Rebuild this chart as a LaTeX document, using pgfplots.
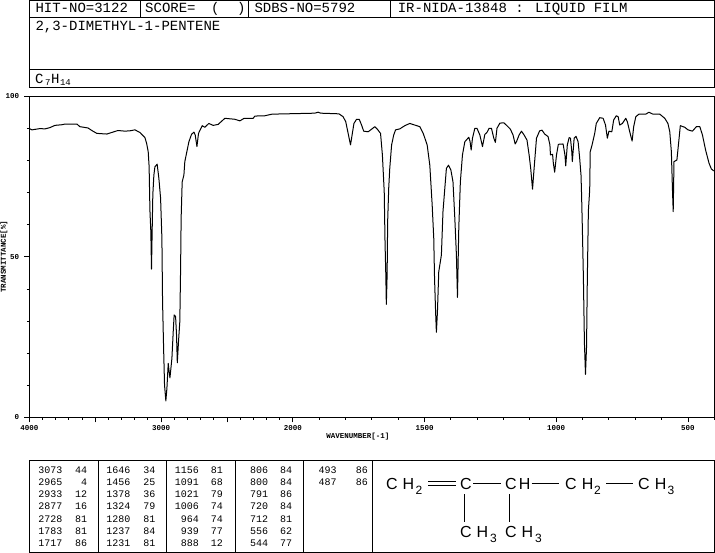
\documentclass[border=0pt]{standalone}
\usepackage{fontspec}
\usepackage{pgfplots}
\pgfplotsset{compat=1.18}
\setmainfont{Liberation Sans}
\newfontfamily\px{Liberation Mono}
% one text helper: left, baseline, size, text
\newcommand\txt[4]{\node[anchor=base west,inner sep=0pt] at (#1,#2) {\fontsize{#3}{#3}\selectfont #4};}
\newcommand\hdr[3]{\txt{#1}{#2}{14}{\px #3}}
\newcommand\grp[3]{\txt{#1}{#2}{16}{#3}}
\begin{document}
\begin{tikzpicture}[x=1pt,y=-1pt,line width=1pt]
\useasboundingbox (0,0) rectangle (715,553);
% header box
\draw (29.4,0.5) rectangle (714.3,87.3);
\draw (29.4,17.3) -- (714.3,17.3) (29.4,69.5) -- (714.3,69.5);
\draw (140,0.5) -- (140,17.3) (248.3,0.5) -- (248.3,17.3) (390.5,0.5) -- (390.5,17.3);
\hdr{35}{13}{HIT-NO=3122}
\hdr{144.7}{13}{SCORE=}
\hdr{210.5}{13}{(}
\hdr{236.5}{13}{)}
\hdr{254}{13}{SDBS-NO=5792}
\hdr{397.3}{13}{IR-NIDA-13848 : LIQUID FILM}
\hdr{35}{30.7}{2,3-DIMETHYL-1-PENTENE}
\hdr{34.5}{84}{C}
\txt{44.5}{86}{9}{\px 7}
\hdr{50.5}{84}{H}
\txt{59.5}{86}{9}{\px 14}
\begin{axis}[
at={(29.4pt,-417.3pt)},anchor=south west,
scale only axis,width=684.9pt,height=320.8pt,
x coord trafo/.code={\pgfmathparse{#1>2000 ? (4000-#1)/2 : 3000-#1}\pgfmathresult},
xmin=4000,xmax=400,ymin=0,ymax=100,
axis line style={line width=1pt},
tick align=outside,xtick pos=bottom,ytick pos=left,
tick style={black,line width=0.9pt},
major tick length=5pt,minor tick length=2.5pt,
xtick={4000,3000,2000,1500,1000,500},
xticklabels={4000,3000,2000,1500,1000,500},
extra x ticks={3500,2500},extra x tick labels={},
minor xtick={3900,3800,3700,3600,3400,3300,3200,3100,2900,2800,2700,2600,2400,2300,2200,2100,1900,1800,1700,1600,1400,1300,1200,1100,900,800,700,600,400},
ytick={0,50,100},yticklabels={0,50,100},
minor ytick={10,20,30,40,60,70,80,90},
ticklabel style={font=\fontsize{7.5}{7.5}\selectfont\px\bfseries,inner sep=0pt},
xticklabel style={yshift=-2.5pt},
yticklabel style={xshift=-5pt},
xlabel={WAVENUMBER[-1]},ylabel={TRANSMITTANCE[\%]},
every axis x label/.style={at={(axis description cs:0.4795,-0.06)},anchor=center,font=\fontsize{7.5}{7.5}\selectfont\px\bfseries},
every axis y label/.style={at={(axis description cs:-0.037,0.5)},anchor=center,rotate=90,font=\fontsize{7.5}{7.5}\selectfont\px\bfseries},
]
\addplot[black,line width=1pt,sharp plot,line join=round] coordinates {
(4000,90.0)(3981,89.6)(3920,90.0)(3882,89.9)(3844,90.3)(3806,91.0)(3753,91.2)(3731,91.4)(3639,91.4)(3617,90.6)
(3556,90.2)(3518,89.2)(3488,88.5)(3412,88.3)(3366,88.9)(3328,89.4)(3275,89.2)(3237,89.3)(3199,89.6)(3161,88.8)
(3123,87.2)(3110,85.4)(3098,82.8)(3091,78.1)(3085,64.6)(3078,57.9)(3073,46.2)(3068,57.9)(3063,69.3)(3055,75.5)
(3047,78.1)(3030,78.9)(3017,74.5)(3004,68.3)(2994,55.8)(2989,36.0)(2981,21.5)(2974,10.1)(2964,5.1)(2956,9.0)
(2946,16.8)(2939,14.2)(2933,12.3)(2918,18.4)(2908,26.7)(2901,31.9)(2890,31.4)(2883,25.7)(2877,17.0)(2868,23.6)
(2858,29.8)(2852,46.4)(2848,62.0)(2840,73.4)(2827,75.5)(2820,79.7)(2807,82.3)(2789,85.9)(2769,88.2)(2751,88.9)
(2741,88.0)(2728,84.4)(2716,88.5)(2688,90.9)(2668,90.4)(2638,91.6)(2605,91.0)(2567,91.3)(2516,93.2)(2465,93.0)
(2440,92.9)(2402,92.4)(2370,93.2)(2301,93.2)(2288,93.9)(2212,94.0)(2157,94.5)(2048,94.6)(1917,94.8)(1904,95.1)
(1894,94.8)(1825,94.6)(1809,93.7)(1799,92.1)(1790,88.5)(1781,84.9)(1775,88.0)(1768,91.6)(1758,92.9)(1748,92.9)
(1739,91.1)(1731,89.2)(1714,89.0)(1701,89.8)(1689,90.6)(1679,89.8)(1667,88.5)(1660,81.8)(1653,70.3)(1650,54.7)
(1647,44.4)(1645,35.2)(1642,44.4)(1640,61.0)(1636,71.4)(1632,77.6)(1625,84.9)(1617,88.0)(1610,89.6)(1594,89.9)
(1575,90.9)(1556,91.6)(1537,91.1)(1518,90.6)(1505,88.5)(1490,84.9)(1480,78.6)(1471,66.2)(1465,55.8)(1462,43.3)
(1458,32.9)(1455,26.5)(1451,32.9)(1446,45.4)(1436,50.6)(1430,64.1)(1423,71.4)(1417,77.6)(1409,78.6)(1400,77.1)
(1392,73.4)(1385,62.0)(1379,50.6)(1375,37.4)(1370,58.9)(1364,73.4)(1356,81.8)(1347,85.9)(1332,87.3)(1327,85.9)
(1323,83.3)(1318,87.0)(1309,90.1)(1301,90.1)(1290,88.0)(1280,84.4)(1271,88.2)(1263,88.8)(1255,90.1)(1246,90.1)
(1237,87.0)(1231,85.7)(1225,90.1)(1214,91.7)(1199,91.8)(1187,90.9)(1174,89.8)(1164,88.0)(1156,85.2)(1151,85.9)
(1141,88.0)(1132,89.2)(1122,88.0)(1111,86.4)(1103,81.8)(1097,77.6)(1090,71.1)(1085,76.6)(1075,87.0)(1063,89.3)
(1054,89.5)(1044,88.3)(1031,87.5)(1024,84.9)(1022,81.8)(1014,82.0)(1011,79.2)(1006,76.4)(999,81.8)(992,85.1)
(974,85.2)(967,81.8)(964,78.4)(958,84.9)(951,87.2)(946,87.0)(941,82.8)(939,79.7)(932,87.0)(925,87.6)
(917,85.9)(911,80.7)(906,75.5)(904,69.9)(901,59.4)(897,43.8)(893,23.1)(889,13.4)(885,22.0)(882,43.3)
(878,64.4)(873,70.9)(871,82.8)(864,84.9)(854,88.5)(848,91.6)(835,93.4)(822,93.2)(813,91.1)(806,87.0)
(800,89.2)(789,89.0)(782,92.7)(772,94.0)(765,93.7)(759,91.1)(749,91.6)(736,93.2)(730,92.1)(721,89.0)
(712,86.1)(706,90.6)(698,93.7)(686,94.5)(660,94.5)(648,95.1)(633,94.5)(607,94.5)(588,93.2)(576,91.6)
(569,89.0)(563,82.8)(559,71.4)(556,64.1)(553,79.7)(542,80.2)(535,85.9)(529,90.9)(512,90.4)(500,89.6)
(483,89.2)(468,90.6)(455,90.6)(445,88.0)(433,83.3)(420,79.2)(411,77.4)(402,76.8)
};
\end{axis}
% peak table
\draw (29.4,460.5) rectangle (714,552.4);
\foreach \x in {98.7,166.3,235.3,303.3,372.3} \draw (\x,460.5) -- (\x,552.4);
\newcommand\col[3]{\foreach \w/\t [count=\i from 0] in {#3} {
 \node[anchor=base east,inner sep=0pt] at (#1,473+12.33*\i) {\fontsize{10}{10}\selectfont\px \w};
 \node[anchor=base east,inner sep=0pt] at (#2,473+12.33*\i) {\fontsize{10}{10}\selectfont\px \t};}}
\col{62.7}{87.3}{3073/44,2965/4,2933/12,2877/16,2728/81,1783/81,1717/86}
\col{130.7}{155.7}{1646/34,1456/25,1378/36,1324/79,1280/81,1237/84,1231/81}
\col{199}{223}{1156/81,1091/68,1021/79,1006/74,964/74,939/77,888/12}
\col{268.3}{292.3}{806/84,800/84,791/86,720/84,712/81,556/62,544/77}
\col{336.7}{368}{493/86,487/86}
% structure
\grp{386}{489}{C\hspace{5pt}H}
\txt{415.5}{494}{12}{2}
\draw[line width=0.9pt] (428.3,481) -- (456,481) (428.3,485) -- (456,485);
\grp{460}{489}{C}
\draw[line width=0.9pt] (473.3,483) -- (500.7,483);
\grp{505}{489}{C\hspace{2pt}H}
\draw[line width=0.9pt] (531.7,483) -- (559.3,483);
\grp{565}{489}{C\hspace{5pt}H}
\txt{594}{494}{12}{2}
\draw[line width=0.9pt] (606,483) -- (633.3,483);
\grp{638}{489}{C\hspace{5pt}H}
\txt{667.5}{494}{12}{3}
\draw[line width=0.9pt] (464.3,494.3) -- (464.3,521.7) (509.3,494.3) -- (509.3,521.7);
\grp{460}{537.7}{C\hspace{5pt}H}
\txt{490}{542.7}{12}{3}
\grp{505}{537.7}{C\hspace{5pt}H}
\txt{535}{542.7}{12}{3}
\end{tikzpicture}
\end{document}
